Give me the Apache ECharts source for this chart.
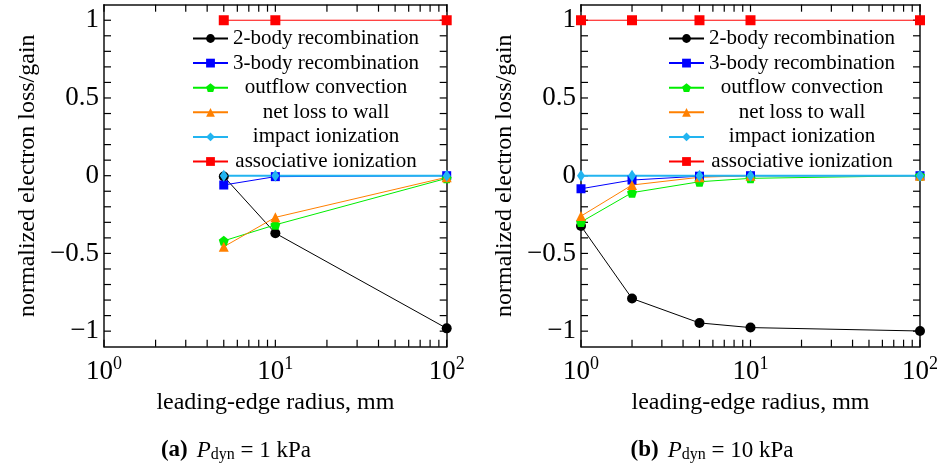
<!DOCTYPE html>
<html>
<head>
<meta charset="utf-8">
<script src="https://cdn.jsdelivr.net/npm/echarts@6/dist/echarts.min.js"></script>
<style>html,body{margin:0;padding:0;background:#fff}#c{width:941px;height:466px}</style>
</head>
<body>
<div id="c"></div>
<script>
// ---- data ----
const seriesNames = ['2-body recombination','3-body recombination','outflow convection','net loss to wall','impact ionization','associative ionization'];
const xA = [5, 10, 100];
const a_twoBody   = [-0.005, -0.37, -0.982];
const a_threeBody = [-0.06, -0.006, 0];
const a_outflow   = [-0.419, -0.316, -0.017];
const a_netWall   = [-0.457, -0.268, -0.01];
const a_impact    = [0, 0, 0];
const a_assoc     = [1, 1, 1];

const xB = [1, 2, 5, 10, 100];
const b_twoBody   = [-0.324, -0.79, -0.947, -0.977, -0.999];
const b_threeBody = [-0.084, -0.028, -0.003, 0, 0];
const b_outflow   = [-0.298, -0.109, -0.039, -0.017, 0];
const b_netWall   = [-0.26, -0.06, -0.01, 0, 0];
const b_impact    = [0, 0, 0, 0, 0];
const b_assoc     = [1, 1, 1, 1, 1];

const xMin = 1, xMax = 100;
const yMin = -1.1, yMax = 1.1;
const xTickValues = [1,2,3,4,5,6,7,8,9,10,20,30,40,50,60,70,80,90,100];
const xLabelValues = [1, 10, 100];
const yTickValues = [-1,-0.9,-0.8,-0.7,-0.6,-0.5,-0.4,-0.3,-0.2,-0.1,0,0.1,0.2,0.3,0.4,0.5,0.6,0.7,0.8,0.9,1];
const yLabelValues = [-1, -0.5, 0, 0.5, 1];
const captions = [['(a)', '1 kPa'], ['(b)', '10 kPa']];

// ---- styles ----
const FONT = '"Liberation Serif", "DejaVu Serif", serif';
const PENTAGON = 'path://M50,0 L97.6,34.5 L79.4,90.5 L20.6,90.5 L2.4,34.5 Z';
const TICK_LEN = 7;
const styles = [
  {color:'#000000', symbol:'circle', size:10, lw:1},
  {color:'#0000ff', symbol:'rect', size:9, lw:1},
  {color:'#00ee00', symbol:PENTAGON, size:10, lw:1},
  {color:'#ff8000', symbol:'triangle', size:10, lw:1},
  {color:'#22b4f0', symbol:'diamond', size:[8,12], lw:2},
  {color:'#ff0000', symbol:'rect', size:10, lw:1}
];

function AL(){ return {show:true, onZero:false, lineStyle:{color:'#111', width:1.5}}; }

function xAxes(gi){
  return [
    {type:'log', min:xMin, max:xMax, gridIndex:gi, position:'bottom', axisLine:AL(), axisTick:{show:false}, splitLine:{show:false},
      axisLabel:{customValues:xLabelValues, margin:9,
        formatter:function(v){ return '{b|10}{s|' + Math.round(Math.log10(v)) + '}'; },
        rich:{b:{fontFamily:FONT, fontSize:27, color:'#000'}, s:{fontFamily:FONT, fontSize:18, color:'#000', padding:[0,0,14,0]}}},
      name:'leading-edge radius, mm', nameLocation:'middle', nameGap:44,
      nameTextStyle:{fontFamily:FONT, fontSize:24, color:'#000'}},
    {type:'log', min:xMin, max:xMax, gridIndex:gi, position:'top', axisLine:AL(), axisTick:{show:false}, splitLine:{show:false}, axisLabel:{show:false}}
  ];
}
function yAxes(gi){
  return [
    {type:'value', min:yMin, max:yMax, gridIndex:gi, position:'left', axisLine:AL(), axisTick:{show:false}, splitLine:{show:false},
      axisLabel:{customValues:yLabelValues, margin:5, color:'#000', fontFamily:FONT, fontSize:27,
        formatter:function(v){ return v < 0 ? '\u2212' + Math.abs(v) : String(v); }},
      name:'normalized electron loss/gain', nameLocation:'middle', nameGap:64,
      nameTextStyle:{fontFamily:FONT, fontSize:24, color:'#000'}},
    {type:'value', min:yMin, max:yMax, gridIndex:gi, position:'right', axisLine:AL(), axisTick:{show:false}, splitLine:{show:false}, axisLabel:{show:false}}
  ];
}

const dataA = [a_twoBody, a_threeBody, a_outflow, a_netWall, a_impact, a_assoc];
const dataB = [b_twoBody, b_threeBody, b_outflow, b_netWall, b_impact, b_assoc];

function makeSeries(xs, ys, gi){
  return ys.map(function(vals, i){
    const st = styles[i];
    return {
      type:'line', name:seriesNames[i], xAxisIndex:gi*2, yAxisIndex:gi*2,
      data: xs.map(function(x, k){ return [x, vals[k]]; }),
      symbol: st.symbol, symbolSize: st.size, showAllSymbol:true,
      lineStyle:{color:st.color, width:st.lw},
      itemStyle:{color:st.color, borderWidth:0},
      emphasis:{disabled:true}
    };
  });
}

// inside tick marks on all four sides, placed through the axes' own scales
function tickSeries(gi){
  const items = xTickValues.map(function(v){ return [v, 0, 0]; })
    .concat(yTickValues.map(function(v){ return [xMin, v, 1]; }));
  return {
    type:'custom', xAxisIndex:gi*2, yAxisIndex:gi*2, silent:true, clip:false, z:1,
    legendHoverLink:false, tooltip:{show:false},
    data: items,
    renderItem:function(params, api){
      const kind = api.value(2);
      const st = {stroke:'#000', lineWidth:1.2};
      if (kind === 0) {
        const v = api.value(0);
        const pb = api.coord([v, yMin]);
        const pt = api.coord([v, yMax]);
        return {type:'group', children:[
          {type:'line', shape:{x1:pb[0], y1:pb[1], x2:pb[0], y2:pb[1] - TICK_LEN}, style:st},
          {type:'line', shape:{x1:pt[0], y1:pt[1], x2:pt[0], y2:pt[1] + TICK_LEN}, style:st}
        ]};
      }
      const v = api.value(1);
      const pl = api.coord([xMin, v]);
      const pr = api.coord([xMax, v]);
      return {type:'group', children:[
        {type:'line', shape:{x1:pl[0], y1:pl[1], x2:pl[0] + TICK_LEN, y2:pl[1]}, style:st},
        {type:'line', shape:{x1:pr[0], y1:pr[1], x2:pr[0] - TICK_LEN, y2:pr[1]}, style:st}
      ]};
    }
  };
}

function legend(left){
  return {
    orient:'vertical', left:left, top:28, padding:0,
    itemWidth:35, itemHeight:11, itemGap:3.6,
    data: seriesNames,
    formatter:'{t|{name}}',
    selectedMode:false,
    textStyle:{rich:{t:{width:186, align:'center', fontFamily:FONT, fontSize:21, color:'#000', lineHeight:20, height:20}}}
  };
}

function caption(i, cx){
  return {
    left: cx, top: 433, textAlign:'center',
    text: '{b|' + captions[i][0] + '}{sp| }{i|P}{sub|dyn}{n| = ' + captions[i][1] + '}',
    textStyle:{fontWeight:'normal', rich:{
      b:{fontFamily:FONT, fontSize:23, fontWeight:'bold', color:'#000'},
      sp:{fontFamily:FONT, fontSize:23, fontWeight:'normal', width:9},
      i:{fontFamily:FONT, fontSize:23, fontStyle:'italic', fontWeight:'normal', color:'#000'},
      sub:{fontFamily:FONT, fontSize:16, fontWeight:'normal', color:'#000', padding:[9,0,0,0]},
      n:{fontFamily:FONT, fontSize:23, fontWeight:'normal', color:'#000'}
    }}
  };
}

const chart = echarts.init(document.getElementById('c'));
chart.setOption({
  animation:false,
  backgroundColor:'#fff',
  grid: [
    {left:104, top:4.7, width:342.7, height:342},
    {left:581, top:4.7, width:341.7, height:342}
  ],
  xAxis: xAxes(0).concat(xAxes(1)),
  yAxis: yAxes(0).concat(yAxes(1)),
  legend: [legend(192), legend(668)],
  title: [caption(0, 231), caption(1, 707)],
  series: [tickSeries(0), tickSeries(1)].concat(makeSeries(xA, dataA, 0), makeSeries(xB, dataB, 1))
});
</script>
</body>
</html>
